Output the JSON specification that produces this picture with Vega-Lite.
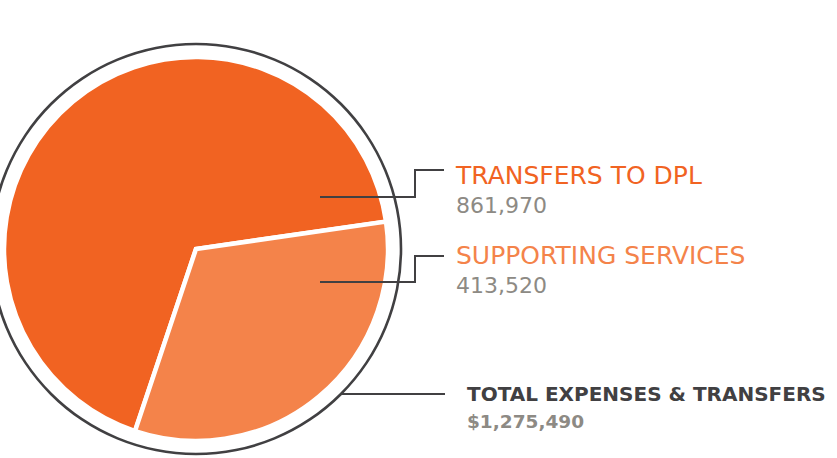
{
  "$schema": "https://vega.github.io/schema/vega-lite/v6.json",
  "autosize": "none",
  "padding": {"left": 0, "top": 0, "right": 445, "bottom": 0},
  "width": 392,
  "height": 498,
  "background": "white",
  "config": {"view": {"stroke": null}},
  "datasets": {
    "slices": [
      {"category": "TRANSFERS TO DPL", "value": 861970},
      {"category": "SUPPORTING SERVICES", "value": 413520}
    ],
    "total": [
      {"label": "TOTAL EXPENSES & TRANSFERS", "value": 1275490}
    ]
  },
  "layer": [
    {
      "data": {"name": "total"},
      "mark": {"type": "arc", "radius": 206.3, "radius2": 203.7, "fill": "#414042"},
      "encoding": {
        "theta": {"field": "value", "type": "quantitative", "stack": true, "scale": {"range": [0, 6.2832]}}
      }
    },
    {
      "data": {"name": "slices"},
      "mark": {"type": "arc", "radius": 192, "stroke": "white", "strokeWidth": 4.5, "strokeJoin": "miter"},
      "encoding": {
        "theta": {"field": "value", "type": "quantitative", "stack": true, "scale": {"range": [1.4277, 7.7109]}},
        "order": {"field": "value", "sort": "ascending"},
        "color": {"field": "category", "type": "nominal", "legend": null,
          "scale": {"domain": ["TRANSFERS TO DPL", "SUPPORTING SERVICES"], "range": ["#F16322", "#F4834A"]}}
      }
    },
    {"data": {"name": "total"}, "mark": {"type": "rule", "color": "#414042", "strokeWidth": 2}, "encoding": {"x": {"value": 320}, "x2": {"value": 416}, "y": {"value": 197}, "y2": {"value": 197}}},
    {"data": {"name": "total"}, "mark": {"type": "rule", "color": "#414042", "strokeWidth": 2}, "encoding": {"x": {"value": 415}, "x2": {"value": 415}, "y": {"value": 169}, "y2": {"value": 198}}},
    {"data": {"name": "total"}, "mark": {"type": "rule", "color": "#414042", "strokeWidth": 2}, "encoding": {"x": {"value": 414}, "x2": {"value": 444}, "y": {"value": 170}, "y2": {"value": 170}}},
    {"data": {"name": "total"}, "mark": {"type": "rule", "color": "#414042", "strokeWidth": 2}, "encoding": {"x": {"value": 320}, "x2": {"value": 416}, "y": {"value": 282}, "y2": {"value": 282}}},
    {"data": {"name": "total"}, "mark": {"type": "rule", "color": "#414042", "strokeWidth": 2}, "encoding": {"x": {"value": 415}, "x2": {"value": 415}, "y": {"value": 255}, "y2": {"value": 283}}},
    {"data": {"name": "total"}, "mark": {"type": "rule", "color": "#414042", "strokeWidth": 2}, "encoding": {"x": {"value": 414}, "x2": {"value": 444}, "y": {"value": 256}, "y2": {"value": 256}}},
    {"data": {"name": "total"}, "mark": {"type": "rule", "color": "#414042", "strokeWidth": 2}, "encoding": {"x": {"value": 340}, "x2": {"value": 445}, "y": {"value": 394}, "y2": {"value": 394}}},
    {
      "data": {"name": "slices"},
      "mark": {"type": "text", "align": "left", "baseline": "alphabetic", "font": "DejaVu Sans", "fontSize": 25, "x": 456},
      "encoding": {
        "text": {"field": "category"},
        "y": {"field": "category", "type": "nominal", "axis": null,
          "scale": {"type": "point", "padding": 0, "domain": ["TRANSFERS TO DPL", "SUPPORTING SERVICES"], "range": [184, 264]}},
        "color": {"field": "category", "type": "nominal", "legend": null}
      }
    },
    {
      "data": {"name": "slices"},
      "mark": {"type": "text", "align": "left", "baseline": "alphabetic", "font": "DejaVu Sans", "fontSize": 22, "x": 456, "dy": 29, "color": "#8D8A84"},
      "encoding": {
        "text": {"field": "value", "type": "quantitative", "format": ",.0f"},
        "y": {"field": "category", "type": "nominal", "axis": null}
      }
    },
    {
      "data": {"name": "total"},
      "mark": {"type": "text", "align": "left", "baseline": "alphabetic", "font": "DejaVu Sans", "fontWeight": "bold", "fontSize": 20, "color": "#414042", "x": 467, "y": 401},
      "encoding": {"text": {"field": "label"}}
    },
    {
      "data": {"name": "total"},
      "mark": {"type": "text", "align": "left", "baseline": "alphabetic", "font": "DejaVu Sans", "fontWeight": "bold", "fontSize": 18.5, "color": "#8D8A84", "x": 467, "y": 428},
      "encoding": {"text": {"field": "value", "type": "quantitative", "format": "$,.0f"}}
    }
  ],
  "resolve": {"scale": {"theta": "independent"}}
}
